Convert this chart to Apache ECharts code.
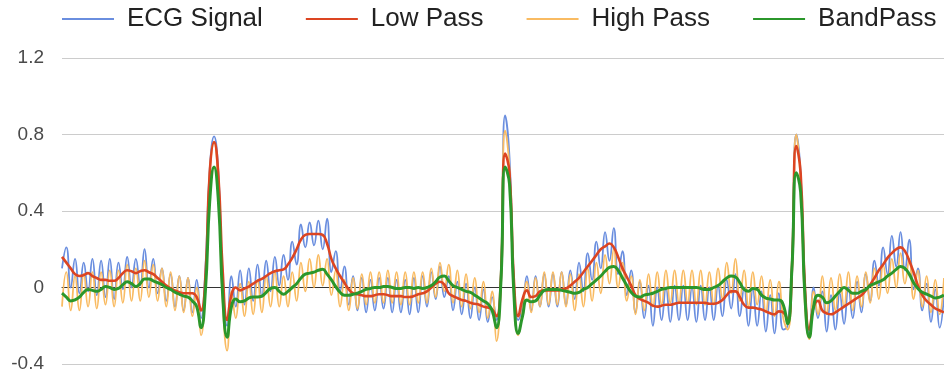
<!DOCTYPE html>
<html>
<head>
<meta charset="utf-8">
<title>ECG filtering</title>
<script src="https://cdn.jsdelivr.net/npm/echarts@6/dist/echarts.min.js"></script>
<style>
  html, body { margin: 0; padding: 0; background: #fff; }
  #chart { width: 944px; height: 378px; }
</style>
</head>
<body>
<div id="chart"></div>
<script>
// Raw ECG trace with mains hum, sampled at a fixed rate
const ecg = [
  0.1, 0.21, 0.0, 0.15, -0.03, 0.13, -0.02, 0.15, -0.04, 0.14,
  -0.05, 0.15, -0.06, 0.13, -0.01, 0.16, 0.0, 0.15, 0.01, 0.2,
  0.0, 0.15, -0.03, 0.1, -0.07, 0.07, -0.1, 0.06, -0.12, 0.05,
  -0.13, 0.04, -0.16, 0.1, 0.62, 0.79, 0.6, 0.05, -0.2, 0.06,
  -0.1, 0.09, -0.09, 0.1, -0.07, 0.12, -0.05, 0.14, -0.02, 0.16,
  0.01, 0.17, 0.04, 0.24, 0.12, 0.33, 0.21, 0.34, 0.22, 0.35,
  0.2, 0.36, 0.08, 0.19, -0.02, 0.11, -0.09, 0.06, -0.12, 0.05,
  -0.13, 0.04, -0.12, 0.05, -0.11, 0.05, -0.13, 0.04, -0.13, 0.04,
  -0.14, 0.05, -0.13, 0.06, -0.1, 0.08, -0.06, 0.11, -0.05, 0.06,
  -0.12, 0.03, -0.14, 0.02, -0.16, 0.0, -0.17, -0.01, -0.18, -0.05,
  -0.17, 0.06, 0.9, 0.68, 0.04, -0.17, -0.1, 0.06, -0.12, 0.06,
  -0.1, 0.07, -0.1, 0.07, -0.1, 0.08, -0.09, 0.09, -0.06, 0.13,
  -0.02, 0.18, 0.04, 0.24, 0.1, 0.29, 0.14, 0.31, 0.07, 0.19,
  -0.04, 0.09, -0.13, 0.03, -0.16, 0.01, -0.2, 0.0, -0.17, 0.0,
  -0.18, 0.01, -0.17, 0.01, -0.17, 0.0, -0.18, 0.01, -0.17, 0.0,
  -0.17, 0.01, -0.15, 0.04, -0.11, 0.07, -0.15, 0.0, -0.2, -0.01,
  -0.2, -0.02, -0.23, -0.04, -0.24, -0.03, -0.22, -0.2, 0.12, 0.8,
  0.6, 0.0, -0.24, 0.0, -0.16, -0.02, -0.23, -0.04, -0.22, -0.03,
  -0.19, 0.0, -0.16, 0.03, -0.13, 0.07, -0.07, 0.14, 0.01, 0.21,
  0.07, 0.27, 0.11, 0.29, 0.09, 0.25, -0.01, 0.1, -0.12, 0.02,
  -0.18, -0.01, -0.21, -0.04
];

// Low-pass filtered trace
const lowPass = [
  0.16, 0.13, 0.1, 0.07, 0.06, 0.065, 0.075, 0.06, 0.05, 0.04,
  0.04, 0.035, 0.035, 0.05, 0.075, 0.09, 0.085, 0.075, 0.085, 0.09,
  0.08, 0.07, 0.05, 0.03, 0.01, -0.005, -0.015, -0.025, -0.03, -0.03,
  -0.03, -0.05, -0.12, 0.05, 0.6, 0.76, 0.58, 0.08, -0.17, -0.04,
  0.0, -0.015, -0.005, 0.005, 0.02, 0.035, 0.045, 0.06, 0.075, 0.085,
  0.09, 0.095, 0.12, 0.155, 0.2, 0.25, 0.275, 0.28, 0.28, 0.28,
  0.275, 0.23, 0.15, 0.1, 0.06, 0.025, -0.01, -0.03, -0.035, -0.04,
  -0.045, -0.045, -0.04, -0.035, -0.035, -0.04, -0.045, -0.045, -0.045, -0.05,
  -0.05, -0.045, -0.035, -0.03, -0.02, 0.0, 0.02, 0.03, 0.015, -0.03,
  -0.045, -0.055, -0.065, -0.07, -0.08, -0.085, -0.09, -0.1, -0.105, -0.115,
  -0.15, 0.04, 0.7, 0.6, 0.04, -0.15, -0.06, -0.015, -0.05, -0.045,
  -0.02, -0.015, -0.015, -0.015, -0.015, -0.01, -0.005, 0.01, 0.03, 0.05,
  0.08, 0.11, 0.14, 0.17, 0.2, 0.215, 0.23, 0.21, 0.16, 0.1,
  0.055, 0.01, -0.04, -0.06, -0.07, -0.08, -0.095, -0.1, -0.095, -0.09,
  -0.09, -0.085, -0.08, -0.08, -0.08, -0.08, -0.08, -0.08, -0.08, -0.085,
  -0.085, -0.08, -0.065, -0.04, -0.02, -0.02, -0.05, -0.09, -0.105, -0.105,
  -0.11, -0.115, -0.125, -0.135, -0.14, -0.125, -0.13, -0.17, 0.1, 0.74,
  0.6, 0.0, -0.22, -0.1, -0.07, -0.12, -0.135, -0.14, -0.13, -0.115,
  -0.1, -0.085, -0.07, -0.055, -0.04, -0.015, 0.015, 0.05, 0.09, 0.12,
  0.155, 0.18, 0.2, 0.21, 0.19, 0.14, 0.08, 0.01, -0.04, -0.07,
  -0.09, -0.11, -0.12, -0.13
];

// High-pass filtered trace (baseline wander removed)
const highPass = [
  -0.1, 0.08, -0.12, 0.06, -0.12, 0.07, -0.1, 0.08, -0.11, 0.08,
  -0.09, 0.09, -0.1, 0.09, -0.08, 0.12, -0.07, 0.1, -0.07, 0.14,
  -0.05, 0.12, -0.07, 0.1, -0.1, 0.08, -0.12, 0.06, -0.13, 0.05,
  -0.15, 0.0, -0.25, 0.02, 0.6, 0.76, 0.5, -0.08, -0.33, -0.02,
  -0.16, 0.02, -0.15, 0.03, -0.14, 0.04, -0.13, 0.06, -0.1, 0.08,
  -0.1, 0.06, -0.1, 0.08, -0.07, 0.13, -0.02, 0.15, 0.0, 0.17,
  0.01, 0.15, -0.04, 0.09, -0.1, 0.04, -0.12, 0.05, -0.11, 0.07,
  -0.09, 0.08, -0.08, 0.08, -0.08, 0.09, -0.08, 0.08, -0.09, 0.08,
  -0.09, 0.08, -0.08, 0.08, -0.08, 0.1, -0.05, 0.13, -0.02, 0.12,
  -0.08, 0.09, -0.1, 0.07, -0.11, 0.05, -0.13, 0.03, -0.16, -0.02,
  -0.28, 0.04, 0.82, 0.62, -0.02, -0.25, -0.12, 0.03, -0.13, 0.05,
  -0.1, 0.08, -0.09, 0.08, -0.09, 0.08, -0.1, 0.07, -0.12, 0.07,
  -0.1, 0.1, -0.07, 0.13, -0.03, 0.17, 0.02, 0.2, 0.0, 0.13,
  -0.07, 0.06, -0.14, 0.04, -0.12, 0.07, -0.1, 0.08, -0.09, 0.09,
  -0.08, 0.09, -0.08, 0.09, -0.08, 0.09, -0.09, 0.09, -0.09, 0.08,
  -0.09, 0.1, -0.06, 0.13, -0.03, 0.15, -0.07, 0.09, -0.1, 0.08,
  -0.09, 0.06, -0.13, 0.04, -0.15, 0.03, -0.16, -0.22, 0.08, 0.8,
  0.55, -0.1, -0.27, -0.02, -0.14, 0.06, -0.14, 0.05, -0.12, 0.07,
  -0.1, 0.08, -0.12, 0.06, -0.1, 0.08, -0.08, 0.1, -0.06, 0.12,
  -0.03, 0.15, 0.0, 0.18, 0.02, 0.15, -0.06, 0.09, -0.1, 0.06,
  -0.13, 0.04, -0.14, 0.05
];

// Band-pass filtered trace
const bandPass = [
  -0.03, -0.05, -0.07, -0.065, -0.05, -0.025, -0.01, -0.015, -0.02, -0.01,
  0.005, 0.0, -0.01, -0.005, 0.015, 0.03, 0.02, 0.005, 0.02, 0.045,
  0.045, 0.035, 0.025, 0.015, 0.0, -0.01, -0.025, -0.035, -0.045, -0.05,
  -0.07, -0.1, -0.21, -0.02, 0.45, 0.63, 0.45, -0.05, -0.26, -0.1,
  -0.06, -0.075, -0.07, -0.055, -0.05, -0.05, -0.045, -0.025, -0.005, 0.0,
  -0.02, -0.035, -0.02, 0.0, 0.02, 0.05, 0.07, 0.075, 0.08, 0.09,
  0.095, 0.07, 0.04, 0.005, -0.025, -0.04, -0.04, -0.035, -0.03, -0.02,
  -0.01, -0.005, 0.0, 0.0, 0.005, 0.005, 0.0, -0.005, -0.005, 0.0,
  0.0, -0.005, 0.0, -0.005, 0.0, 0.01, 0.03, 0.055, 0.06, 0.035,
  0.01, 0.0, -0.01, -0.02, -0.025, -0.04, -0.055, -0.07, -0.085, -0.12,
  -0.21, 0.02, 0.63, 0.54, -0.03, -0.24, -0.15, -0.065, -0.075, -0.07,
  -0.04, -0.015, -0.01, -0.01, -0.01, -0.015, -0.02, -0.025, -0.03, -0.025,
  -0.01, 0.0, 0.02, 0.04, 0.06, 0.085, 0.105, 0.11, 0.09, 0.05,
  0.01, -0.025, -0.045, -0.05, -0.04, -0.035, -0.03, -0.02, -0.01, -0.005,
  0.0, 0.0, 0.0, 0.0, 0.0, 0.0, 0.0, -0.005, -0.01, -0.01,
  0.0, 0.01, 0.03, 0.05, 0.06, 0.055, 0.025, -0.01, -0.02, -0.005,
  -0.01, -0.04, -0.055, -0.06, -0.065, -0.065, -0.09, -0.19, 0.1, 0.6,
  0.5, -0.05, -0.26, -0.1, -0.04, -0.05, -0.08, -0.07, -0.045, -0.02,
  0.0, -0.015, -0.03, -0.03, -0.02, -0.01, 0.01, 0.02, 0.03, 0.04,
  0.06, 0.075, 0.095, 0.11, 0.1, 0.07, 0.025, -0.005, -0.025, -0.035,
  -0.045, -0.055, -0.05, -0.04
];

const seriesNames = ['ECG Signal', 'Low Pass', 'High Pass', 'BandPass'];
const samples = ecg.map((_, i) => i);

const FONT = '"Liberation Sans", Arial, sans-serif';

const chart = echarts.init(document.getElementById('chart'), null, { renderer: 'canvas' });

function trace(name, data, color, width, z) {
  return {
    name,
    type: 'line',
    data,
    smooth: 0.5,
    showSymbol: false,
    symbol: 'none',
    z,
    lineStyle: { color, width },
    itemStyle: { color },
    emphasis: { disabled: true }
  };
}

chart.setOption({
  animation: false,
  backgroundColor: '#ffffff',
  color: ['#6a8edf', '#dc4522', '#f9bb62', '#2b972b'],
  legend: {
    type: 'plain',
    data: seriesNames,
    top: 6,
    left: 62,
    width: 880,
    padding: 0,
    icon: 'rect',
    itemWidth: 52,
    itemHeight: 2,
    itemGap: 43,
    textStyle: {
      fontFamily: FONT,
      fontSize: 26,
      color: '#222',
      padding: [0, 0, 0, 8]
    }
  },
  grid: { left: 62, right: 0, top: 58, bottom: 14, containLabel: false },
  xAxis: {
    type: 'category',
    data: samples,
    boundaryGap: false,
    axisLine: { show: true, onZero: true, lineStyle: { color: '#333', width: 1 } },
    axisTick: { show: false },
    axisLabel: { show: false },
    splitLine: { show: false }
  },
  yAxis: {
    type: 'value',
    min: -0.4,
    max: 1.2,
    interval: 0.4,
    axisLine: { show: false },
    axisTick: { show: false },
    axisLabel: {
      margin: 18,
      fontFamily: FONT,
      fontSize: 19,
      color: '#4a4a4a'
    },
    splitLine: { lineStyle: { color: '#cccccc', width: 1 } }
  },
  series: [
    trace(seriesNames[0], ecg, '#6a8edf', 1.8, 2),
    trace(seriesNames[1], lowPass, '#dc4522', 2.6, 4),
    trace(seriesNames[2], highPass, '#f9bb62', 1.8, 3),
    trace(seriesNames[3], bandPass, '#2b972b', 3, 5)
  ]
});
</script>
</body>
</html>
